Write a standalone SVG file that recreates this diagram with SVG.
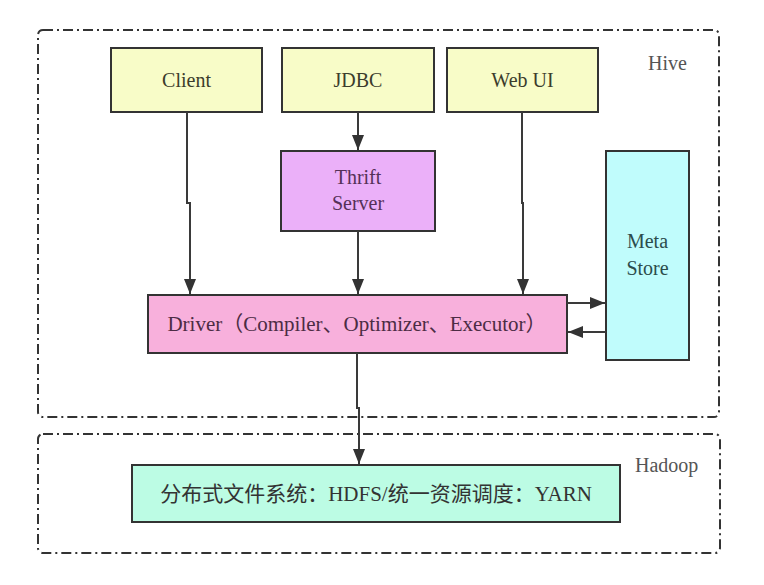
<svg xmlns="http://www.w3.org/2000/svg" width="764" height="585" viewBox="0 0 764 585">
<style>
  .frame{fill:none;stroke:#333;stroke-width:2;stroke-dasharray:10 4 2 4}
  .box{stroke:#333;stroke-width:2}
  .t{font-family:'Liberation Serif','Noto Sans CJK SC',serif;font-size:20px;text-anchor:middle}
  .big{font-size:21px}
  .lbl{font-family:'Liberation Serif',serif;font-size:20px;fill:#555}
  .conn{fill:none;stroke:#3a3a3a;stroke-width:2}
</style>
<defs>
  <marker id="arr" markerUnits="userSpaceOnUse" markerWidth="16" markerHeight="12" refX="15" refY="6" orient="auto">
    <path d="M0,0 L15,6 L0,12 z" fill="#333"/>
  </marker>
</defs>
<rect width="764" height="585" fill="#fff"/>
<g id="hive-frame">
  <rect class="frame" x="38" y="30" width="681" height="387" rx="5"/>
  <text class="lbl" x="648" y="70">Hive</text>
</g>
<g id="hadoop-frame">
  <rect class="frame" x="38" y="434" width="682" height="119" rx="5"/>
  <text class="lbl" x="635" y="472">Hadoop</text>
</g>
<g id="client">
  <rect class="box" x="111" y="48" width="151" height="64" fill="#f8fcc8"/>
  <text class="t" x="186.5" y="87" fill="#3c3c2c">Client</text>
</g>
<g id="jdbc">
  <rect class="box" x="282" y="48" width="152" height="64" fill="#f8fcc8"/>
  <text class="t" x="358" y="87" fill="#3c3c2c">JDBC</text>
</g>
<g id="webui">
  <rect class="box" x="447" y="48" width="151" height="64" fill="#f8fcc8"/>
  <text class="t" x="522.5" y="87" fill="#3c3c2c">Web UI</text>
</g>
<g id="thrift">
  <rect class="box" x="281" y="151" width="154" height="80" fill="#ebb0f9"/>
  <text class="t" x="358" y="184" fill="#553058">Thrift</text>
  <text class="t" x="358" y="210" fill="#553058">Server</text>
</g>
<g id="metastore">
  <rect class="box" x="606" y="151" width="83" height="209" fill="#c0fcfc"/>
  <text class="t" x="647.5" y="248" fill="#2c4c4c">Meta</text>
  <text class="t" x="647.5" y="275" fill="#2c4c4c">Store</text>
</g>
<g id="driver">
  <rect class="box" x="148" y="295" width="419" height="58" fill="#f8b0dc"/>
  <text class="t big" x="357" y="331" fill="#4c2c44">Driver（Compiler、Optimizer、Executor）</text>
</g>
<g id="hdfs-yarn">
  <rect class="box" x="132" y="465" width="488" height="57" fill="#bcfce4"/>
  <text class="t big" x="376" y="501" fill="#333">分布式文件系统：HDFS/统一资源调度：YARN</text>
</g>
<g id="connectors">
  <path class="conn" d="M187,112 V203 H190 V294" marker-end="url(#arr)"/>
  <path class="conn" d="M358,112 V150" marker-end="url(#arr)"/>
  <path class="conn" d="M358,231 V294" marker-end="url(#arr)"/>
  <path class="conn" d="M522,112 V203 H523 V294" marker-end="url(#arr)"/>
  <path class="conn" d="M567,303 H605" marker-end="url(#arr)"/>
  <path class="conn" d="M606,332 H568" marker-end="url(#arr)"/>
  <path class="conn" d="M357,353 V408 H359 V464" marker-end="url(#arr)"/>
</g>
</svg>
